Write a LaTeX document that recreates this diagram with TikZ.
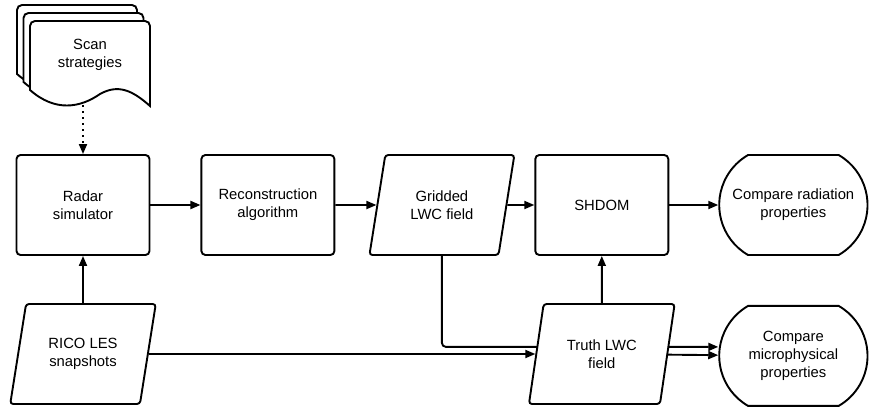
\documentclass[tikz,border=0pt]{standalone}
\usepackage{fontspec}
\setmainfont{Liberation Sans}
\usetikzlibrary{positioning}
\usetikzlibrary{calc}
\usetikzlibrary{shapes.geometric}
\usetikzlibrary{shapes.misc}
\usetikzlibrary{arrows.meta}
\usetikzlibrary{backgrounds}
\newcommand\chartfont{\fontsize{14.8}{18}\selectfont}
\tikzstyle{procbox} = [
	draw,
	fill=white,
	line width=1.9pt,
	rounded corners=4pt,
	minimum width=133pt,
	minimum height=100pt,
	align=center,
	font=\chartfont
]
\tikzstyle{databox} = [
	draw,
	fill=white,
	line width=1.9pt,
	trapezium,
	trapezium stretches=true,
	trapezium left angle=73,
	trapezium right angle=107,
	rounded corners=3pt,
	minimum width=146pt,
	minimum height=100pt,
	inner sep=0pt,
	align=center,
	font=\chartfont
]
\tikzstyle{endbox} = [
	draw,
	fill=white,
	line width=1.9pt,
	rounded rectangle,
	rounded rectangle arc length=120,
	minimum width=155pt,
	minimum height=100pt,
	align=center,
	font=\chartfont
]
\tikzstyle{sheetbox} = [
	draw,
	fill=white,
	line width=1.9pt
]
\tikzstyle{flow} = [
	line width=1.9pt,
	-{Triangle[length=10pt,width=8pt]}
]
\tikzstyle{dotflow} = [
	flow,
	dash pattern=on 2pt off 4pt
]

\begin{document}
\begin{tikzpicture}[x=1pt, y=1pt, node distance=49pt and 50pt]
	\useasboundingbox (0,0) rectangle (870,-407);

	%
	% Scan strategy sheets
	\foreach \d in {2,1,0} {
		\draw[sheetbox, shift={(-6.5*\d, 8*\d)}] (30,-90) [rounded corners=5pt] -- (30,-21) -- (150,-21) [sharp corners] -- (150,-106)
			.. controls (132,-90) and (118,-84) .. (100,-94)
			.. controls (80,-108) and (55,-112) .. (30,-90) -- cycle;
	}
	\node[font=\chartfont, align=center] (Scan) at (90,-55) {Scan\\strategies};
	\coordinate (ScanEnd) at (83,-105);

	% Top row
	\node[procbox] (Radar) at (83,-205) {Radar\\simulator};
	\node[procbox, right=of Radar] (Recon) {Reconstruction\\algorithm};
	\node[databox] (Gridded) at ($(Recon)+(174,0)$) {Gridded\\LWC field};
	\node[procbox, right=199pt of Recon] (SHDOM) {SHDOM};
	\node[endbox, right=49pt of SHDOM] (CompRad) {Compare radiation\\properties};

	% Bottom row
	\node[databox] (RICO) at ($(Radar)+(0,-149)$) {RICO LES\\snapshots};
	\node[databox] (Truth) at ($(SHDOM)+(0,-149)$) {Truth LWC\\field};
	\node[endbox, below=of CompRad] (Micro) {Compare\\microphysical\\properties};

	% Connectors
	\draw[dotflow] (ScanEnd) -- (Radar);
	\draw[flow] (Radar) -- (Recon);
	\draw[flow] (Recon) -- (Gridded);
	\draw[flow] (Gridded) -- (SHDOM);
	\draw[flow] (SHDOM) -- (CompRad);
	\draw[flow] (RICO) -- (Radar);
	\draw[flow] (Truth) -- (SHDOM);
	\draw[flow] (RICO) -- (Truth);
	\draw[flow] (Truth) -- (Micro);
	\begin{scope}[on background layer]
		\draw[flow, rounded corners=4pt] (Gridded.center) |- ($(Micro.west)+(0,9)$);
	\end{scope}

\end{tikzpicture}
\end{document}
